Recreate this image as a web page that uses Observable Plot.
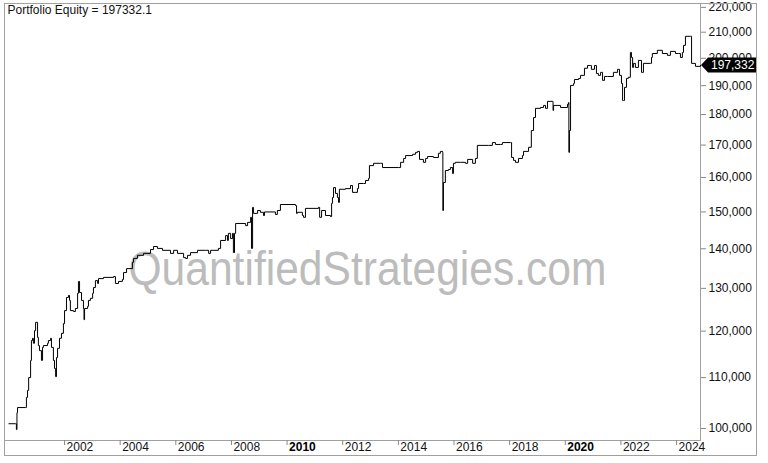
<!DOCTYPE html>
<html><head><meta charset="utf-8">
<script src="https://cdn.jsdelivr.net/npm/d3@7"></script>
<script src="https://cdn.jsdelivr.net/npm/@observablehq/plot@0.6"></script>
<style>
html,body{margin:0;padding:0;background:#fff;}
#wrap{position:relative;width:768px;height:463px;}
#border{position:absolute;left:4px;top:3px;width:751px;height:451px;border:1px solid #a0a0a0;pointer-events:none;}
</style></head><body><div id="wrap"><div id="border"></div></div>
<script>
const title = "Portfolio Equity = 197332.1";
const watermark = "QuantifiedStrategies.com";
const lastLabel = "197,332";
const lastValue = 197332.1;

const years = [
 2000.00,2000.24,2000.27,2000.29,2000.31,2000.60,2000.63,2000.67,2000.71,2000.78,
 2000.81,2000.85,2000.88,2000.92,2000.96,2001.03,2001.06,2001.10,2001.17,2001.21,
 2001.24,2001.39,2001.42,2001.50,2001.53,2001.60,2001.64,2001.68,2001.71,2001.75,
 2001.82,2001.89,2001.96,2002.00,2002.07,2002.14,2002.18,2002.21,2002.32,2002.39,
 2002.47,2002.50,2002.54,2002.61,2002.68,2002.70,2002.72,2002.83,2002.86,2002.93,
 2003.01,2003.04,2003.11,2003.19,2003.22,2003.40,2003.76,2003.83,2003.94,2004.08,
 2004.12,2004.23,2004.44,2004.48,2004.62,2004.84,2005.09,2005.20,2005.34,2005.52,
 2005.81,2005.92,2006.06,2006.28,2006.35,2006.42,2006.53,2006.78,2007.07,2007.18,
 2007.25,2007.53,2007.61,2007.79,2007.86,2007.89,2007.97,2008.04,2008.07,2008.11,
 2008.15,2008.51,2008.58,2008.69,2008.72,2008.76,2008.79,2008.94,2009.04,2009.15,
 2009.19,2009.58,2009.65,2009.76,2010.30,2010.34,2010.37,2010.55,2010.59,2010.66,
 2011.13,2011.17,2011.24,2011.38,2011.56,2011.60,2011.63,2011.67,2011.74,2011.81,
 2011.85,2011.88,2012.10,2012.28,2012.35,2012.53,2012.57,2012.75,2012.82,2012.93,
 2012.96,2013.11,2013.36,2013.43,2014.01,2014.08,2014.19,2014.26,2014.51,2014.62,
 2014.69,2014.76,2014.90,2014.98,2015.05,2015.26,2015.44,2015.51,2015.59,2015.60,
 2015.62,2015.69,2015.80,2015.87,2015.95,2015.98,2016.05,2016.23,2016.41,2016.49,
 2016.67,2016.77,2016.84,2017.24,2017.38,2017.49,2017.67,2017.74,2018.03,2018.07,
 2018.14,2018.21,2018.32,2018.46,2018.50,2018.68,2018.78,2018.86,2018.93,2019.11,
 2019.22,2019.29,2019.36,2019.54,2019.56,2019.58,2019.83,2020.08,2020.12,2020.13,
 2020.15,2020.19,2020.30,2020.33,2020.48,2020.55,2020.69,2020.80,2020.91,2020.94,
 2021.05,2021.12,2021.19,2021.27,2021.34,2021.41,2021.52,2021.73,2021.88,2021.95,
 2022.02,2022.06,2022.09,2022.13,2022.20,2022.27,2022.34,2022.38,2022.42,2022.45,
 2022.52,2022.63,2022.74,2022.81,2023.06,2023.10,2023.13,2023.31,2023.49,2023.67,
 2023.78,2023.96,2024.07,2024.14,2024.21,2024.25,2024.32,2024.50,2024.54,2024.68,
 2024.86
];
const equityThousands = [
 100.9,100.9,99.8,103.0,104.0,104.0,106.0,107.4,110.0,113.6,
 117.9,118.4,117.3,120.1,122.0,118.6,116.8,115.7,113.6,116.4,
 116.8,117.3,117.9,118.4,116.4,113.6,111.9,110.2,114.2,116.2,
 118.4,119.5,121.7,124.7,127.8,128.3,127.1,124.7,124.5,125.2,
 128.8,131.7,129.0,127.1,125.2,122.6,125.2,125.7,127.1,127.6,
 128.8,130.2,131.9,131.2,132.4,132.7,132.9,131.2,131.7,132.2,
 133.9,134.9,136.5,137.5,138.3,138.8,139.8,140.6,140.1,139.6,
 138.8,139.6,138.8,137.7,137.5,138.3,139.0,139.6,139.6,138.8,
 139.6,140.1,142.2,143.5,142.2,144.1,142.7,144.1,139.0,144.1,
 146.8,146.2,147.1,148.5,140.1,151.3,149.6,150.4,149.9,149.0,
 150.0,149.3,150.4,152.1,151.8,149.6,149.9,149.0,148.5,151.0,
 151.3,148.5,150.4,149.0,148.7,152.4,154.1,157.0,155.3,154.1,
 152.7,156.5,156.7,157.6,155.6,156.7,158.2,158.2,159.1,159.7,
 163.6,164.3,164.3,163.0,163.0,164.6,165.8,166.7,167.1,167.7,
 168.0,165.5,164.6,165.8,166.4,166.1,167.4,168.0,167.7,150.4,
 158.5,162.1,162.4,163.0,161.2,164.3,164.6,164.6,164.3,165.5,
 164.3,165.8,169.9,169.9,170.8,170.2,170.2,170.8,170.8,166.1,
 165.2,164.6,165.8,166.7,168.0,169.3,174.7,179.0,182.1,182.4,
 183.1,182.1,184.5,184.5,181.4,183.1,182.4,183.5,184.1,167.7,
 174.7,190.1,190.8,192.2,192.6,193.7,196.3,197.3,197.3,195.9,
 197.3,194.4,193.7,194.8,191.9,193.3,193.3,194.8,195.9,193.7,
 190.8,184.8,184.8,189.4,192.6,193.0,202.2,200.3,196.6,198.1,
 196.6,199.2,194.8,198.1,198.1,200.3,201.8,203.0,201.8,201.1,
 202.6,201.8,201.8,200.3,202.2,204.9,208.4,208.4,198.1,197.0,
 197.3321
];
const xTickYears = [2002,2004,2006,2008,2012,2014,2016,2018,2022,2024];
const xBoldYears = [2010,2020];
const yTicks = [100000,110000,120000,130000,140000,150000,160000,170000,180000,190000,200000,210000,220000];

const data = years.map((yr, i) => ({year: yr, equity: equityThousands[i] * 1000}));
const allYears = xTickYears.concat(xBoldYears);

const font = "Arial, 'Liberation Sans', sans-serif";
const chart = Plot.plot({
  width: 768, height: 463,
  marginLeft: 4, marginRight: 68, marginTop: 3, marginBottom: 23,
  style: {fontFamily: font, fontSize: "12px", background: "transparent", color: "#000", overflow: "visible"},
  x: {type: "linear", domain: [1999.842, 2024.861]},
  y: {type: "log", domain: [97780, 221600]},
  marks: [
    Plot.text([watermark], {x: [2012.89], y: [134600], text: d => d, fontSize: 48, fill: "#bcbcbc", textAnchor: "middle", lineAnchor: "middle", fontFamily: font}),
    Plot.frame({stroke: "#a0a0a0"}),
    Plot.axisX({ticks: allYears, tickSize: 5, stroke: "#888", fill: "none", label: null}),
    Plot.text(xTickYears, {x: d => d, frameAnchor: "bottom", textAnchor: "start", lineAnchor: "top", dx: 2, dy: 2, text: d => String(d), fill: "#111", fontSize: 12}),
    Plot.text(xBoldYears, {x: d => d, frameAnchor: "bottom", textAnchor: "start", lineAnchor: "top", dx: 2, dy: 2, text: d => String(d), fill: "#000", fontSize: 12, fontWeight: "bold"}),
    Plot.axisY({anchor: "right", ticks: yTicks, tickSize: 5, tickPadding: 3, tickFormat: d3.format(","), label: null, stroke: "#888", fill: "#111"}),
    Plot.line(data, {x: "year", y: "equity", curve: "step-after", stroke: "#000", strokeWidth: 1}),
    Plot.text([title], {frameAnchor: "top-left", textAnchor: "start", lineAnchor: "top", dx: 3, dy: 2, text: d => d, fill: "#111", fontSize: 12})
  ]
});
document.getElementById("wrap").prepend(chart);
chart.style.position = "absolute"; chart.style.left = "0"; chart.style.top = "0";

// watermark width fit
d3.select(chart).selectAll("text").filter(function(){ return this.textContent === watermark; })
  .attr("textLength", 478).attr("lengthAdjust", "spacingAndGlyphs");

// last-value tag
const yPix = chart.scale("y").apply(lastValue);
const xEdge = 768 - 68;
const svg = d3.select(chart);
const g = svg.append("g").attr("text-anchor", "start");
g.append("path")
  .attr("d", `M${xEdge+1},${yPix} L${xEdge+8},${yPix-7.5} L${xEdge+56},${yPix-7.5} L${xEdge+56},${yPix+7.5} L${xEdge+8},${yPix+7.5} Z`)
  .attr("fill", "#000");
g.append("text").attr("x", xEdge + 11).attr("y", yPix).attr("dy", "0.35em")
  .attr("text-anchor", "start")
  .attr("fill", "#fff").attr("font-size", 12).attr("font-family", font).text(lastLabel);
</script></body></html>
